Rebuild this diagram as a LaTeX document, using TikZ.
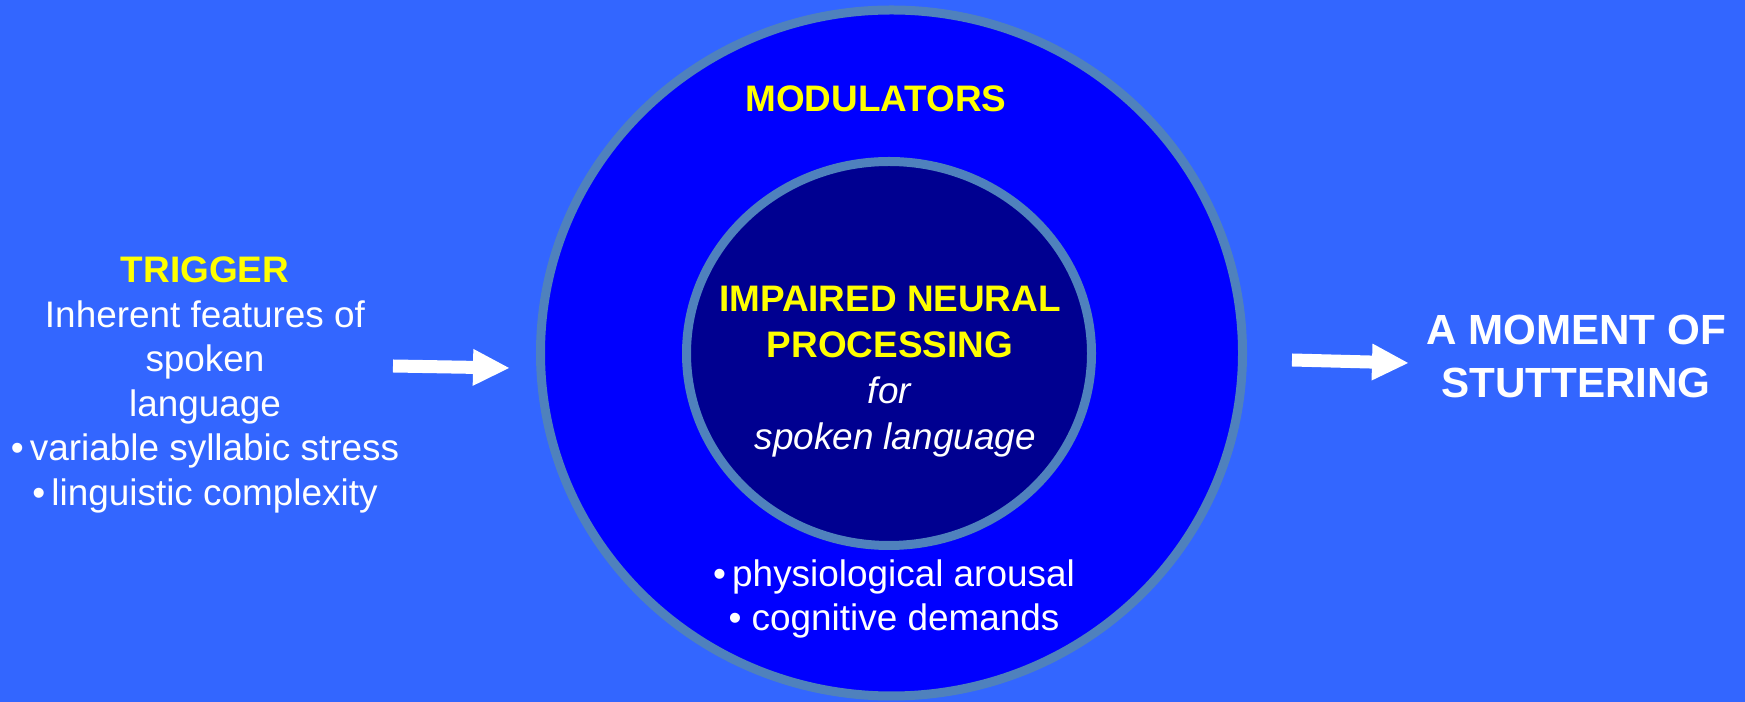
\documentclass[tikz,border=0pt]{standalone}
\usepackage{fontspec}
\setmainfont{Liberation Sans}
\usepackage{tikz}
\usetikzlibrary{arrows.meta}
\definecolor{bgBlue}{RGB}{51,102,255}
\definecolor{ringBlue}{RGB}{0,0,255}
\definecolor{coreNavy}{RGB}{0,0,144}
\definecolor{edgeSteel}{RGB}{79,129,189}
\definecolor{hiYellow}{RGB}{255,255,0}

\begin{document}
\begin{tikzpicture}[x=0.1mm, y=-0.1mm,
    txt/.style={white, inner sep=0pt, align=center, font=\fontsize{10.5}{12.65}\selectfont},
    fatarrow/.style={white, line width=1.3mm, -{Triangle[length=3.6mm, width=3.7mm, line width=0pt]}}]
    % Background
    \fill[bgBlue] (0,0) rectangle (1745,702);
    \useasboundingbox (0,0) rectangle (1745,702);

    % Rings
    \draw[line width=0.9mm, edgeSteel, fill=ringBlue] (891.5,353) ellipse [x radius=351, y radius=343];
    \draw[line width=0.9mm, edgeSteel, fill=coreNavy] (889,353.5) ellipse [x radius=202.5, y radius=192];

    % Labels
    \node[txt, hiYellow, font=\bfseries\fontsize{10.5}{12.8}\selectfont] (modulators) at (876,99) {MODULATORS};
    \node[txt, font=\fontsize{10.5}{13.1}\selectfont] (core) at (890,372)
        {\textcolor{hiYellow}{\bfseries IMPAIRED NEURAL}\\\textcolor{hiYellow}{\bfseries PROCESSING}\\\textit{for}\\\textit{ spoken language}};
    \node[txt, font=\fontsize{10.5}{12.5}\selectfont] (arousal) at (894,599)
        {\textbullet\,physiological arousal\\\textbullet{} cognitive demands};
    \node[txt] (trigger) at (205,385)
        {\textcolor{hiYellow}{\bfseries TRIGGER}\\Inherent features of\\spoken\\language\\\textbullet\,variable syllabic stress\\\textbullet\,linguistic complexity};
    \node[txt, font=\bfseries\fontsize{12}{15}\selectfont] (moment) at (1576,356.5) {A MOMENT OF\\STUTTERING};

    % Arrows
    \coordinate (trigOut) at (393,366);
    \coordinate (ringIn) at (509,368);
    \coordinate (ringOut) at (1292,360);
    \coordinate (momentIn) at (1408,363);
    \draw[fatarrow] (trigOut) -- (ringIn);
    \draw[fatarrow] (ringOut) -- (momentIn);
\end{tikzpicture}
\end{document}
